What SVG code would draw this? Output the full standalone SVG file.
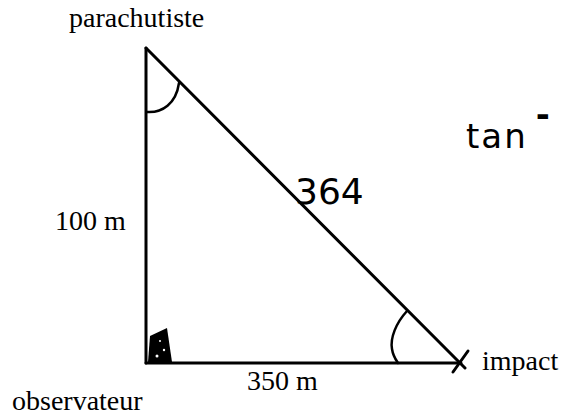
<svg xmlns="http://www.w3.org/2000/svg" width="562" height="420" viewBox="0 0 562 420">
<style>
.lbl{font-family:"Liberation Serif","Times New Roman",serif;font-size:28px;fill:#000}
.hand{font-family:"DejaVu Sans","Liberation Sans",sans-serif;fill:#000}
.edge{stroke:#000;stroke-width:3;fill:none;stroke-linecap:round}
.arc{stroke:#000;stroke-width:2.5;fill:none;stroke-linecap:round}
</style>
<rect width="562" height="420" fill="#fff"/>
<g id="connectors">
<line class="edge" x1="146" y1="48" x2="146" y2="363"/>
<line class="edge" x1="146" y1="363" x2="461" y2="363"/>
<line class="edge" x1="146" y1="48" x2="465" y2="368"/>
<line class="edge" x1="453" y1="372" x2="468" y2="351"/>
<path class="arc" d="M147,112 C162,113 176,104 179,83"/>
<path class="arc" d="M407,311 C396,323 390,338 392,349 C393,356 396,360 398,363"/>
<polygon points="150,336 167,328 172,362 148,362" fill="#000"/>
<circle cx="157" cy="356" r="1.5" fill="#fff"/>
<circle cx="164" cy="350" r="1.2" fill="#fff"/>
<circle cx="160" cy="341" r="1" fill="#fff"/>
</g>
<g id="parachutiste"><text class="lbl" x="69" y="27">parachutiste</text></g>
<g id="observateur"><text class="lbl" x="12" y="410">observateur</text></g>
<g id="impact"><text class="lbl" x="482" y="370">impact</text></g>
<g id="side-100"><text class="lbl" x="55" y="230">100 m</text></g>
<g id="side-350"><text class="lbl" x="247" y="390">350 m</text></g>
<g id="hyp-364"><text class="hand" x="295" y="204" font-size="36">364</text></g>
<g id="tan"><text class="hand" x="466" y="148" font-size="34" letter-spacing="2">tan<tspan dx="8" dy="-22" font-weight="bold">-</tspan></text></g>
</svg>
